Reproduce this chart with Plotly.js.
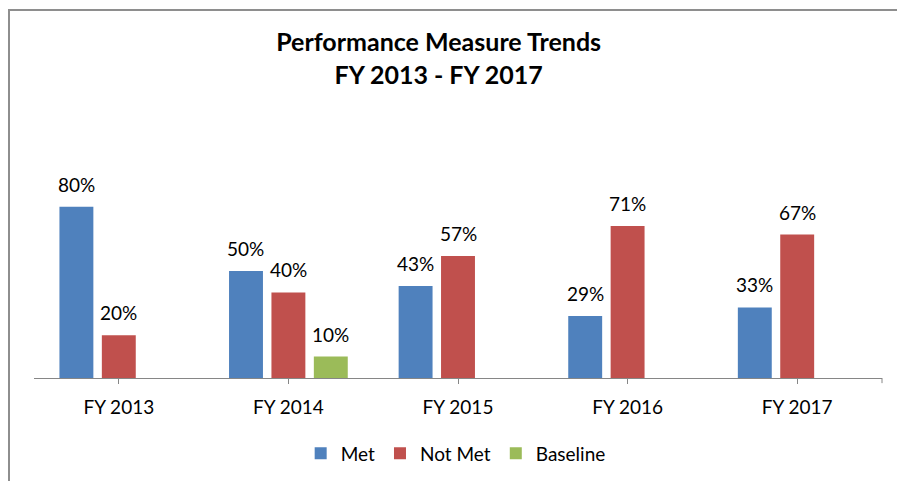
<!DOCTYPE html>
<html>
<head>
<meta charset="utf-8">
<script src="https://cdn.plot.ly/plotly-3.0.1.min.js"></script>
<style>
  html, body { margin: 0; padding: 0; background: #ffffff; }
  #chart { width: 897px; height: 481px; position: relative; }
  #frame { position: absolute; left: 8px; top: 9px; width: 1000px; height: 1000px;
           border-left: 2px solid #8e8e8e; border-top: 2px solid #8e8e8e; pointer-events: none; }
</style>
</head>
<body>
<div id="chart"></div>
<div id="frame"></div>
<script>
const categories = ["FY 2013", "FY 2014", "FY 2015", "FY 2016", "FY 2017"];
const metValues = [80, 50, 43, 29, 33];
const notMetValues = [20, 40, 57, 71, 67];
const baselineValues = [null, 10, null, null, null];
const seriesNames = ["Met", "Not Met", "Baseline"];
const seriesColors = ["#4F81BD", "#C0504D", "#9BBB59"];
const seriesValues = [metValues, notMetValues, baselineValues];

const fontFamily = "Lato, 'Open Sans', sans-serif";
const labelFont = { family: fontFamily, size: 19, color: "#000000" };

const W = 897, H = 481;
const margin = { l: 34, r: 15, t: 164, b: 103 };
const bargap = 0.25, bargroupgap = 0.2;
const slotPx = (W - margin.l - margin.r) / categories.length * (1 - bargap) / seriesNames.length;

const data = seriesNames.map((name, i) => ({
  type: "bar",
  name: name,
  x: categories,
  y: seriesValues[i],
  marker: { color: seriesColors[i] },
  hoverinfo: "skip"
}));

const annotations = [];
seriesValues.forEach((vals, i) => {
  vals.forEach((v, j) => {
    if (v === null) return;
    annotations.push({
      xref: "x", yref: "y",
      x: categories[j], y: v,
      text: v + "%",
      showarrow: false,
      xanchor: "center", yanchor: "bottom",
      xshift: (i - 1) * slotPx,
      yshift: 9,
      font: labelFont
    });
  });
});

const layout = {
  width: W,
  height: H,
  margin: margin,
  paper_bgcolor: "#ffffff",
  plot_bgcolor: "#ffffff",
  barmode: "group",
  bargap: bargap,
  bargroupgap: bargroupgap,
  showlegend: true,
  title: {
    text: "<b>Performance Measure Trends<br>FY 2013 - FY 2017</b>",
    font: { family: fontFamily, size: 25, color: "#000000" },
    xref: "container",
    x: 0.489,
    xanchor: "center",
    yref: "container",
    y: 0.893,
    yanchor: "top"
  },
  xaxis: {
    type: "category",
    automargin: false,
    showline: true,
    linecolor: "#868686",
    linewidth: 1,
    ticks: "outside",
    ticklen: 5,
    tickcolor: "#868686",
    tickfont: labelFont,
    ticklabelstandoff: 7,
    showgrid: false,
    zeroline: false,
    fixedrange: true
  },
  yaxis: {
    range: [0, 100],
    visible: false,
    automargin: false,
    showgrid: false,
    zeroline: false,
    fixedrange: true
  },
  legend: {
    orientation: "h",
    xref: "container",
    yref: "container",
    x: 0.508,
    xanchor: "center",
    y: 0.097,
    yanchor: "top",
    font: labelFont,
    itemclick: false,
    itemdoubleclick: false
  },
  annotations: annotations,
  shapes: [
    {
      type: "line", xref: "paper", yref: "paper",
      x0: 1, x1: 1, y0: 0, y1: -0.024,
      line: { color: "#868686", width: 1 }
    }
  ]
};

Plotly.newPlot("chart", data, layout, { displayModeBar: false, staticPlot: true });
</script>
</body>
</html>
